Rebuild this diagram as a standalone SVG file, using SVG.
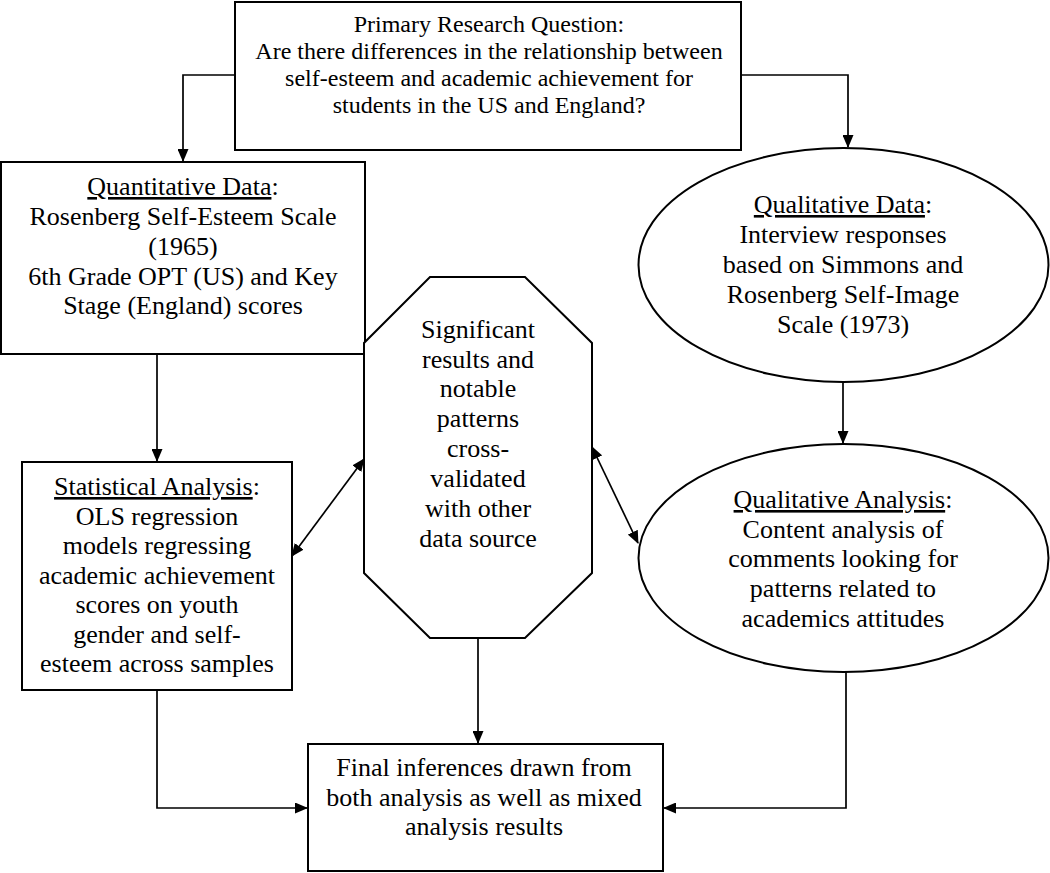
<svg xmlns="http://www.w3.org/2000/svg" width="1050" height="873" viewBox="0 0 1050 873">
<style>
.shape{fill:#fff;stroke:#000;stroke-width:2}
.conn{fill:none;stroke:#000;stroke-width:1.7}
text{font-family:"Liberation Serif","Times New Roman",serif;fill:#000;text-anchor:middle}
.t26{font-size:26px}
.t24{font-size:24px}
.u{text-decoration:underline}
</style>
<defs>
<marker id="ah" viewBox="0 0 13 11" refX="12" refY="5.5" markerWidth="13" markerHeight="11" markerUnits="userSpaceOnUse" orient="auto-start-reverse">
<path d="M0,0 L13,5.5 L0,11 Z" fill="#000"/>
</marker>
</defs>
<rect width="1050" height="873" fill="#fff"/>
<g id="connectors">
<polyline class="conn" points="235,75 183,75 183,161" marker-end="url(#ah)"/>
<polyline class="conn" points="741,75 848,75 848,147" marker-end="url(#ah)"/>
<line class="conn" x1="157" y1="354" x2="157" y2="461" marker-end="url(#ah)"/>
<line class="conn" x1="843" y1="382" x2="843" y2="443" marker-end="url(#ah)"/>
<line class="conn" x1="292" y1="556" x2="364" y2="459" marker-start="url(#ah)" marker-end="url(#ah)"/>
<line class="conn" x1="592" y1="447" x2="638" y2="543" marker-start="url(#ah)" marker-end="url(#ah)"/>
<line class="conn" x1="478" y1="638" x2="478" y2="743" marker-end="url(#ah)"/>
<polyline class="conn" points="157,690 157,808 307,808" marker-end="url(#ah)"/>
<polyline class="conn" points="846,672 846,808 664,808" marker-end="url(#ah)"/>
</g>
<g id="question">
<rect class="shape" x="235" y="2" width="506" height="148"/>
<text class="t24" x="489" y="32">Primary Research Question:</text>
<text class="t24" x="489" y="59">Are there differences in the relationship between</text>
<text class="t24" x="489" y="86">self-esteem and academic achievement for</text>
<text class="t24" x="489" y="113">students in the US and England?</text>
</g>
<g id="quant">
<rect class="shape" x="1" y="162" width="364" height="192"/>
<text class="t26" x="183" y="195"><tspan class="u">Quantitative Data</tspan>:</text>
<text class="t26" x="183" y="225">Rosenberg Self-Esteem Scale</text>
<text class="t26" x="183" y="255">(1965)</text>
<text class="t26" x="183" y="285">6th Grade OPT (US) and Key</text>
<text class="t26" x="183" y="314">Stage (England) scores</text>
</g>
<g id="qualdata">
<ellipse class="shape" cx="843.5" cy="265" rx="205" ry="117"/>
<text class="t26" x="843" y="213"><tspan class="u">Qualitative Data</tspan>:</text>
<text class="t26" x="843" y="243">Interview responses</text>
<text class="t26" x="843" y="273">based on Simmons and</text>
<text class="t26" x="843" y="303">Rosenberg Self-Image</text>
<text class="t26" x="843" y="333">Scale (1973)</text>
</g>
<g id="octagon">
<polygon class="shape" points="430,277 525,277 592,343 592,573 525,638 430,638 364,573 364,343"/>
<text class="t26" x="478" y="338">Significant</text>
<text class="t26" x="478" y="368">results and</text>
<text class="t26" x="478" y="397">notable</text>
<text class="t26" x="478" y="427">patterns</text>
<text class="t26" x="478" y="457">cross-</text>
<text class="t26" x="478" y="487">validated</text>
<text class="t26" x="478" y="517">with other</text>
<text class="t26" x="478" y="547">data source</text>
</g>
<g id="stat">
<rect class="shape" x="22" y="462" width="270" height="228"/>
<text class="t26" x="157" y="495"><tspan class="u">Statistical Analysis</tspan>:</text>
<text class="t26" x="157" y="525">OLS regression</text>
<text class="t26" x="157" y="554">models regressing</text>
<text class="t26" x="157" y="584">academic achievement</text>
<text class="t26" x="157" y="613">scores on youth</text>
<text class="t26" x="157" y="643">gender and self-</text>
<text class="t26" x="157" y="672">esteem across samples</text>
</g>
<g id="qualanalysis">
<ellipse class="shape" cx="843.5" cy="558" rx="205" ry="114"/>
<text class="t26" x="843" y="508"><tspan class="u">Qualitative Analysis</tspan>:</text>
<text class="t26" x="843" y="538">Content analysis of</text>
<text class="t26" x="843" y="567">comments looking for</text>
<text class="t26" x="843" y="597">patterns related to</text>
<text class="t26" x="843" y="627">academics attitudes</text>
</g>
<g id="final">
<rect class="shape" x="308" y="744" width="355" height="127"/>
<text class="t26" x="484" y="776">Final inferences drawn from</text>
<text class="t26" x="484" y="806">both analysis as well as mixed</text>
<text class="t26" x="484" y="835">analysis results</text>
</g>
</svg>
